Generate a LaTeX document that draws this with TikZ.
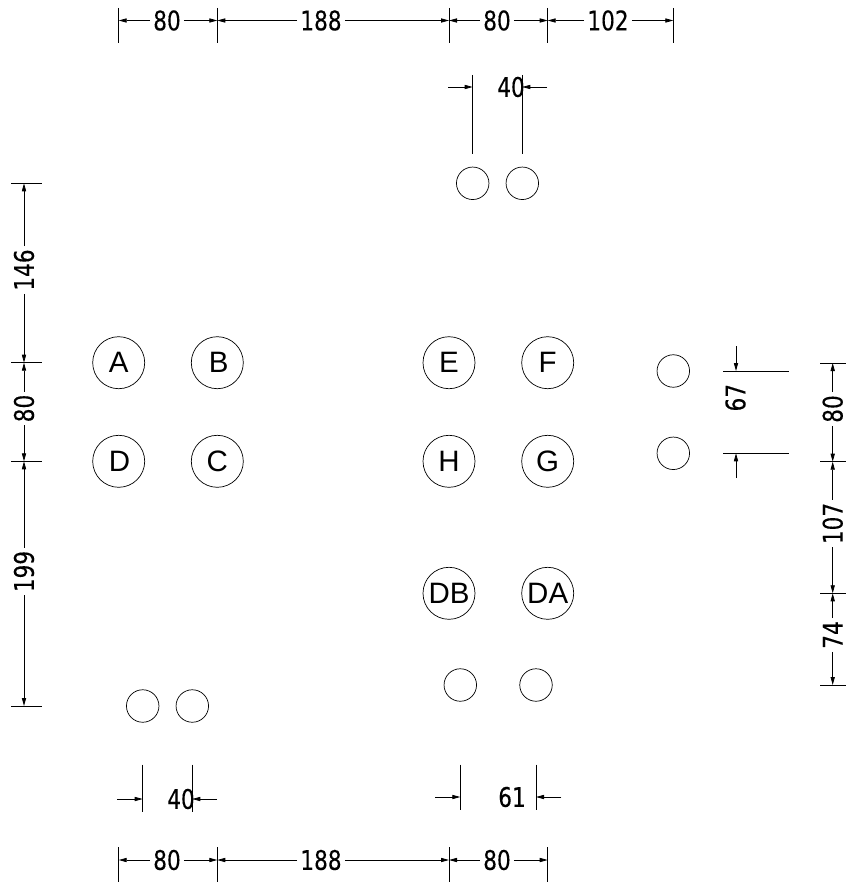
\documentclass[tikz,border=0pt]{standalone}
\usepackage{fontspec}
\usetikzlibrary{arrows.meta}
\setmainfont{Liberation Sans}
\newfontfamily\dimfont[FakeStretch=0.8,FakeBold=0.25]{DejaVu Sans}
\tikzset{
  hole/.style={circle,draw,line width=0.7pt,minimum size=52pt,inner sep=0pt,font=\fontsize{29.5}{30}\selectfont},
  smallhole/.style={circle,draw,line width=0.7pt,minimum size=32.5pt,inner sep=0pt},
  dimtext/.style={inner sep=3pt,font=\dimfont\fontsize{27}{27}\selectfont},
  dimv/.style={dimtext,rotate=90},
  extline/.style={line width=0.8pt},
  dimline/.style={line width=0.8pt,-{Triangle[length=8pt,width=4.2pt]}},
}
\begin{document}
\begin{tikzpicture}[x=1pt,y=-1pt]
\useasboundingbox (0,0) rectangle (846,888);
% large holes
\node[hole] (A) at (118.7,362.7) {A};
\node[hole] (B) at (217.3,362.7) {\hspace*{3pt}B};
\node[hole] (D) at (118.7,461.3) {\hspace*{1.5pt}D};
\node[hole] (C) at (217.3,461.3) {C};
\node[hole] (E) at (449,362.7) {E};
\node[hole] (F) at (547.7,362.7) {F};
\node[hole] (H) at (449,461.3) {H};
\node[hole] (G) at (547.7,461.3) {G};
\node[hole] (DB) at (449,593.3) {DB};
\node[hole] (DA) at (547.7,593.3) {DA};
% small holes
\node[smallhole] (t1) at (472.7,183.3) {};
\node[smallhole] (t2) at (522.3,183.3) {};
\node[smallhole] (r1) at (673.3,371) {};
\node[smallhole] (r2) at (673.3,453.3) {};
\node[smallhole] (b1) at (460.3,685) {};
\node[smallhole] (b2) at (536,685) {};
\node[smallhole] (l1) at (142.7,706) {};
\node[smallhole] (l2) at (192.3,706) {};
% top chain
\coordinate (ta) at (118.7,20.5); \coordinate (tb) at (217.3,20.5);
\coordinate (tc) at (449,20.5); \coordinate (td) at (547.7,20.5); \coordinate (te) at (673.3,20.5);
\foreach \p in {ta,tb,tc,td,te}{\draw[extline] ([yshift=12.5pt]\p) -- ([yshift=-22.5pt]\p);}
\node[dimtext] (L1) at (167,20.5) {80};
\node[dimtext] (L2) at (321,20.5) {188};
\node[dimtext] (L3) at (497,20.5) {80};
\node[dimtext] (L4) at (608,20.5) {102};
\draw[dimline] (L1.west) -- (ta); \draw[dimline] (L1.east) -- (tb);
\draw[dimline] (L2.west) -- (tb); \draw[dimline] (L2.east) -- (tc);
\draw[dimline] (L3.west) -- (tc); \draw[dimline] (L3.east) -- (td);
\draw[dimline] (L4.west) -- (td); \draw[dimline] (L4.east) -- (te);
% bottom chain
\coordinate (ba) at (118.7,860); \coordinate (bb) at (217.3,860);
\coordinate (bc) at (449,860); \coordinate (bd) at (547.7,860);
\foreach \p in {ba,bb,bc,bd}{\draw[extline] ([yshift=13pt]\p) -- ([yshift=-22pt]\p);}
\node[dimtext] (L5) at (167,860) {80};
\node[dimtext] (L6) at (321,860) {188};
\node[dimtext] (L7) at (497,860) {80};
\draw[dimline] (L5.west) -- (ba); \draw[dimline] (L5.east) -- (bb);
\draw[dimline] (L6.west) -- (bb); \draw[dimline] (L6.east) -- (bc);
\draw[dimline] (L7.west) -- (bc); \draw[dimline] (L7.east) -- (bd);
% left chain
\coordinate (la) at (24,183.3); \coordinate (lb) at (24,362.7);
\coordinate (lc) at (24,461.3); \coordinate (ld) at (24,706);
\foreach \p in {la,lb,lc,ld}{\draw[extline] ([xshift=-13pt]\p) -- ([xshift=18pt]\p);}
\node[dimv] (L8) at (24,270) {146};
\node[dimv] (L9) at (24,408.5) {80};
\node[dimv] (L10) at (24,571.5) {199};
\draw[dimline] (L8.east) -- (la); \draw[dimline] (L8.west) -- (lb);
\draw[dimline] (L9.east) -- (lb); \draw[dimline] (L9.west) -- (lc);
\draw[dimline] (L10.east) -- (lc); \draw[dimline] (L10.west) -- (ld);
% right chain
\coordinate (ra) at (832.7,363); \coordinate (rb) at (832.7,461.7);
\coordinate (rc) at (832.7,593.3); \coordinate (rd) at (832.7,685);
\foreach \p in {ra,rb,rc,rd}{\draw[extline] ([xshift=-12.7pt]\p) -- ([xshift=13.3pt]\p);}
\node[dimv,xshift=-1pt] (L11) at (832.7,408) {80};
\node[dimv,xshift=-1pt] (L12) at (832.7,522.5) {107};
\node[dimv,xshift=-1pt] (L13) at (832.7,634) {74};
\draw[dimline] (L11.east -| ra) -- (ra); \draw[dimline] (L11.west -| rb) -- (rb);
\draw[dimline] (L12.east -| rb) -- (rb); \draw[dimline] (L12.west -| rc) -- (rc);
\draw[dimline] (L13.east -| rc) -- (rc); \draw[dimline] (L13.west -| rd) -- (rd);
% top 40
\coordinate (u1) at (472.7,87); \coordinate (u2) at (522.3,87);
\coordinate (u1o) at (448,87); \coordinate (u2o) at (547,87);
\draw[extline] (472.7,75) -- (472.7,154); \draw[extline] (522.3,75) -- (522.3,154);
\draw[dimline] (u1o) -- (u1); \draw[dimline] (u2o) -- (u2);
\node[dimtext] (L14) at (511,87) {40};
% bottom-left 40
\coordinate (v1) at (142.7,799); \coordinate (v2) at (192.3,799);
\coordinate (v1o) at (117.3,799); \coordinate (v2o) at (217,799);
\draw[extline] (142.7,764.7) -- (142.7,811.7); \draw[extline] (192.3,764.7) -- (192.3,811.7);
\draw[dimline] (v1o) -- (v1); \draw[dimline] (v2o) -- (v2);
\node[dimtext] (L15) at (181,799) {40};
% 61
\coordinate (w1) at (460.3,797); \coordinate (w2) at (536,797);
\coordinate (w1o) at (435,797); \coordinate (w2o) at (561.3,797);
\draw[extline] (460.3,764.7) -- (460.3,810); \draw[extline] (536,764.7) -- (536,810);
\draw[dimline] (w1o) -- (w1); \draw[dimline] (w2o) -- (w2);
\node[dimtext] (L16) at (512,797) {61};
% 67
\coordinate (x1) at (736,371); \coordinate (x2) at (736,453.3);
\coordinate (x1o) at (736,346); \coordinate (x2o) at (736,478);
\draw[extline] (723.3,371) -- (789,371); \draw[extline] (723.3,453.3) -- (789,453.3);
\draw[dimline] (x1o) -- (x1); \draw[dimline] (x2o) -- (x2);
\node[dimv] (L17) at (735.5,397.7) {67};
\end{tikzpicture}
\end{document}
